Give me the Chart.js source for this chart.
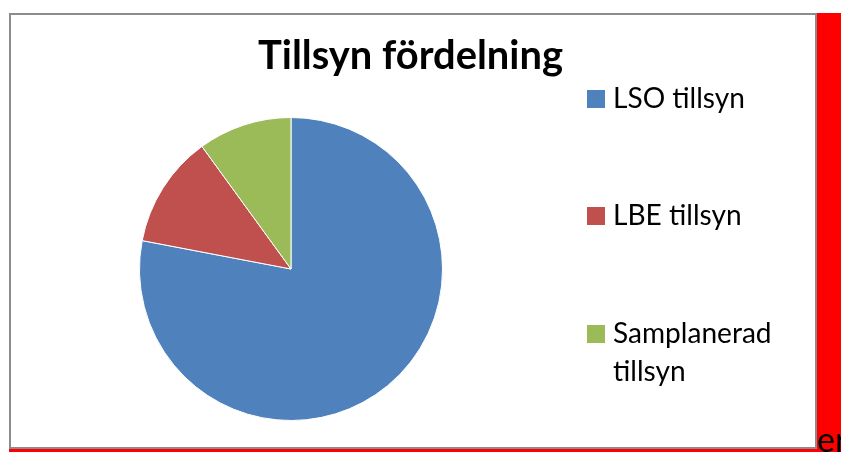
<!DOCTYPE html>
<html lang="sv">
<head>
    <meta charset="UTF-8">
    <meta name="viewport" content="width=device-width, initial-scale=1.0">
    <title>Tillsyn fördelning</title>
    <style>
        body {
            margin: 0;
            width: 841px;
            height: 452px;
            overflow: hidden;
            background: #fff;
            position: relative;
            font-family: Lato, sans-serif;
        }
        .ram {
            position: absolute;
            left: 9px;
            top: 13px;
            width: 808px;
            height: 436px;
            box-sizing: border-box;
            border: 2px solid #8c8c8c;
        }
        .rod-hoger {
            position: absolute;
            left: 817px;
            top: 13px;
            width: 24px;
            height: 439px;
            background: #ff0000;
        }
        .rod-botten {
            position: absolute;
            left: 9px;
            top: 449px;
            width: 808px;
            height: 3px;
            background: #ff0000;
        }
        .er {
            position: absolute;
            left: 817px;
            top: 422px;
            font-size: 34px;
            line-height: 1;
            color: #000;
            z-index: 2;
        }
        #diagram-box {
            position: absolute;
            left: 0;
            top: 0;
            width: 841px;
            height: 452px;
            z-index: 1;
        }
    </style>
</head>
<body>
    <div class="ram"></div>
    <div class="rod-hoger"></div>
    <div class="rod-botten"></div>
    <span class="er">er</span>

    <div id="diagram-box">
        <canvas id="tillsynChart"></canvas>
    </div>

    <script src="https://cdn.jsdelivr.net/npm/chart.js"></script>

    <script>
        // Data
        const rubrik = "Tillsyn fördelning";
        const kategorier = ["LSO tillsyn", "LBE tillsyn", ["Samplanerad", "tillsyn"]];
        const andelar = [78, 12, 10];
        const farger = ["#4F81BD", "#C0504D", "#9BBB59"];

        // räknar ut teckenstorlek så att texten får önskad bredd
        function anpassa(ctx, text, vikt, bredd) {
            ctx.font = vikt + " 100px Lato";
            return 100 * bredd / ctx.measureText(text).width;
        }

        // rubrik och förklaring ritas själv för att hamna rätt
        const ritaTexter = {
            id: "ritaTexter",
            afterDraw(chart) {
                let ctx = chart.ctx;
                ctx.save();
                ctx.fillStyle = "#000";
                ctx.textBaseline = "alphabetic";

                let rubrikStorlek = anpassa(ctx, rubrik, "bold", 305);
                ctx.font = "bold " + rubrikStorlek + "px Lato";
                ctx.textAlign = "center";
                ctx.fillText(rubrik, 410.5, 69);

                let etikettStorlek = anpassa(ctx, "LSO tillsyn", "normal", 132);
                ctx.font = etikettStorlek + "px Lato";
                ctx.textAlign = "left";
                const rutaTopp = [90, 207, 325];

                chart.data.labels.forEach(function(etikett, i) {
                    let rader = Array.isArray(etikett) ? etikett : [etikett];
                    ctx.fillStyle = chart.data.datasets[0].backgroundColor[i];
                    ctx.fillRect(587, rutaTopp[i], 18, 18);
                    ctx.fillStyle = "#000";
                    rader.forEach(function(rad, j) {
                        ctx.fillText(rad, 613, rutaTopp[i] + 17.5 + j * 38);
                    });
                });
                ctx.restore();
            }
        };

        let ctx = document.getElementById("tillsynChart").getContext("2d");
        let tillsynChart = new Chart(ctx, {
            type: "pie",
            data: {
                labels: kategorier,
                datasets: [{
                    label: rubrik,
                    data: andelar,
                    backgroundColor: farger,
                    borderColor: "#ffffff",
                    borderWidth: 1
                }]
            },
            options: {
                responsive: true,
                maintainAspectRatio: false,
                animation: false,
                layout: {
                    padding: { left: 139, right: 398, top: 117, bottom: 31 }
                },
                plugins: {
                    legend: { display: false },
                    title: { display: false },
                    tooltip: { enabled: false }
                }
            },
            plugins: [ritaTexter]
        });
    </script>
</body>
</html>
